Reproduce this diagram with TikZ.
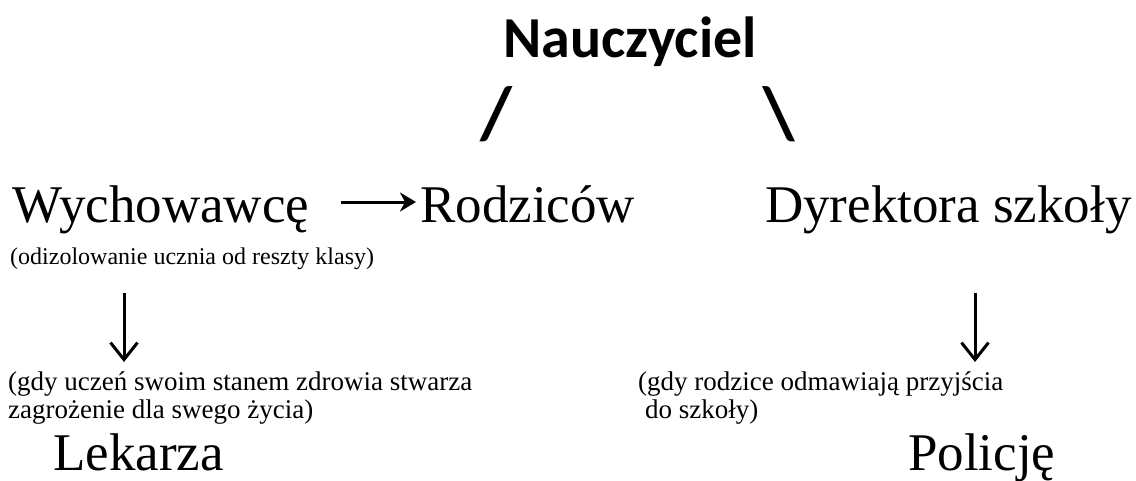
\documentclass[tikz,border=0pt]{standalone}
\usepackage{fontspec}
\setmainfont{Liberation Serif}
\newfontfamily\calibri{Carlito}
\usetikzlibrary{arrows.meta}

\begin{document}
\begin{tikzpicture}[x=1pt,y=-1pt,
        big/.style={anchor=base west, inner sep=0pt, font=\fontsize{53}{60}\selectfont},
        note/.style={anchor=base west, inner sep=0pt, align=left, font=\fontsize{27}{28}\selectfont},
        slash/.style={inner sep=0pt, font=\calibri\bfseries\fontsize{74}{80}\selectfont},
        rarrow/.style={line width=3pt, -{Stealth[length=16pt, width=19pt, inset=5pt]}},
        darrow/.style={line width=3pt, -{Straight Barb[length=17pt, width=27pt]}}]
        \useasboundingbox (0,0) rectangle (1136,480);
        % top
        \node [anchor=base, inner sep=0pt, font=\calibri\bfseries\fontsize{58}{64}\selectfont] (teacher) at (630,57) {Nauczyciel};
        \node [slash] (sl) at (496,114) {/};
        \node [slash] (bs) at (779,114) {\textbackslash};
        % middle row
        \node [big] (wych) at (12,222) {Wychowawcę};
        \node [big] (rodz) at (420,222) {Rodziców};
        \node [big] (dyr) at (765,222) {Dyrektora szkoły};
        \draw [rarrow] ([shift={(32,-20)}]wych.base east) -- ([shift={(-4,-20)}]rodz.base west);
        \node [note, font=\fontsize{24}{26}\selectfont] (izol) at (10,264) {(odizolowanie ucznia od reszty klasy)};
        % arrows down
        \coordinate (l1) at (124,293);
        \coordinate (l2) at (124,362);
        \coordinate (r1) at (975,293);
        \coordinate (r2) at (975,362);
        \draw [darrow] (l1) -- (l2);
        \draw [darrow] (r1) -- (r2);
        % notes (base = last line)
        \node [note] (zdrow) at (8,418) {(gdy uczeń swoim stanem zdrowia stwarza\\zagrożenie dla swego życia)};
        \node [note] (odm) at (638,418) {(gdy rodzice odmawiają przyjścia\\\hspace*{7pt}do szkoły)};
        % bottom
        \node [big] (lek) at (53,470) {Lekarza};
        \node [big] (pol) at (908,470) {Policję};
\end{tikzpicture}
\end{document}
